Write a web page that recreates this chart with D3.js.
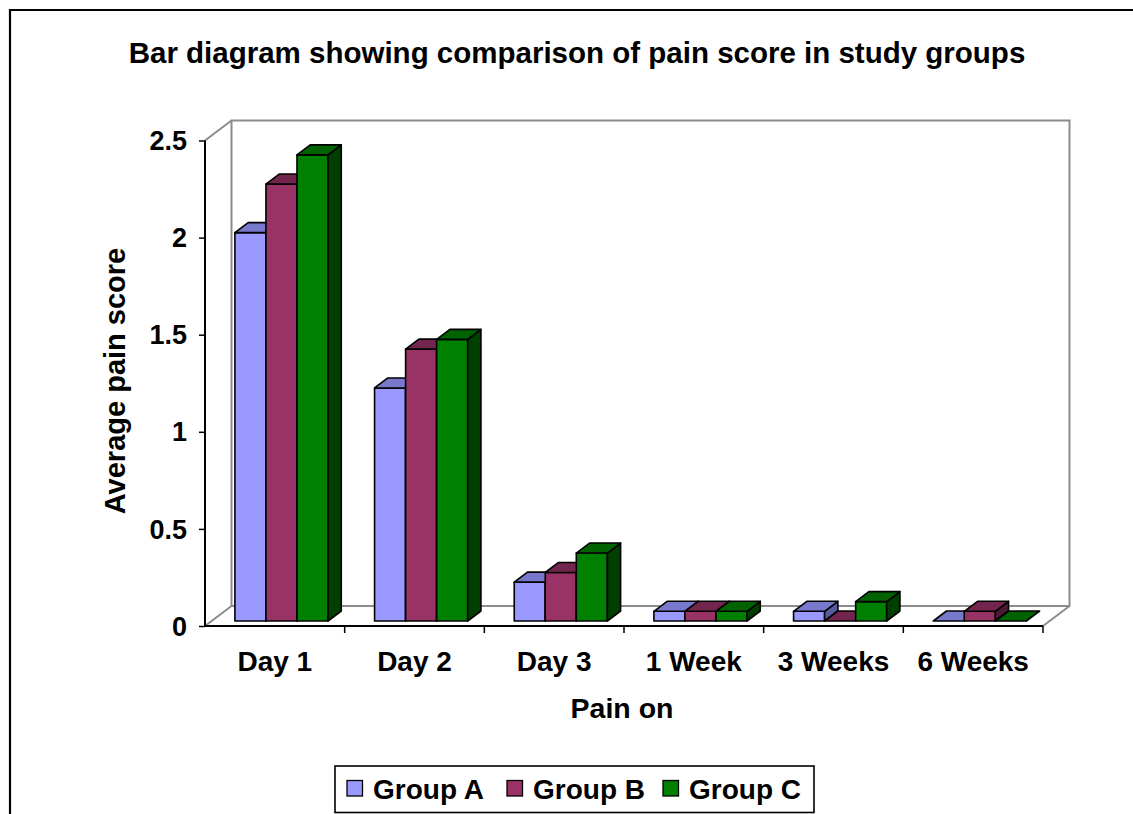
<!DOCTYPE html>
<html><head><meta charset="utf-8">
<script src="https://cdn.jsdelivr.net/npm/d3@7"></script>
<style>
html,body{margin:0;padding:0;background:#fff;}
svg{display:block;font-family:Arial,"Liberation Sans",sans-serif;font-weight:bold;}
</style></head>
<body>
<svg id="chart" width="1133" height="814"></svg>
<script>
const categories = ["Day 1","Day 2","Day 3","1 Week","3 Weeks","6 Weeks"];
const groups = ["Group A","Group B","Group C"];
const groupA = [2.0, 1.2, 0.2, 0.05, 0.05, 0];
const groupB = [2.25, 1.4, 0.25, 0.05, 0, 0.05];
const groupC = [2.4, 1.45, 0.35, 0.05, 0.1, 0];
const yTicks = [0, 0.5, 1, 1.5, 2, 2.5];
const yTickLabels = ["0","0.5","1","1.5","2","2.5"];
const series = [groupA, groupB, groupC];
const colors = {front:["#9999FF","#993366","#008000"], top:["#7878CC","#73264D","#006200"], side:["#5A5AA0","#4D1A33","#003F00"]};

const svg = d3.select("#chart");
const left = 205, right = 1043, bottom = 626, topY = 140.5;
const DX = 26.5, DY = 20;      // full depth offset
const F0 = 0.25, F1 = 0.75;    // bar depth range

const x = d3.scaleBand().domain(categories).range([left, right]).padding(0);
const xg = d3.scaleBand().domain(groups).range([0, x.bandwidth()]).paddingInner(0).paddingOuter(0.75);
const y = d3.scaleLinear().domain([0, 2.5]).range([bottom, topY]);

// outer frame
svg.append("line").attr("x1",9).attr("x2",1133).attr("y1",10).attr("y2",10).attr("stroke","#000").attr("stroke-width",2);
svg.append("line").attr("x1",10).attr("x2",10).attr("y1",9).attr("y2",814).attr("stroke","#000").attr("stroke-width",2.2);

// title
svg.append("text").attr("x",577).attr("y",63).attr("text-anchor","middle").attr("font-size",29.5).text("Bar diagram showing comparison of pain score in study groups");

// walls
const wall = svg.append("g").attr("fill","none").attr("stroke","#8c8c8c").attr("stroke-width",2);
const bx0 = left+DX, bx1 = right+DX, by0 = y(0)-DY, by1 = y(2.5)-DY;
wall.append("path").attr("d",`M${bx0},${by0}L${bx0},${by1}L${bx1},${by1}L${bx1},${by0}Z`);
wall.append("path").attr("d",`M${left},${y(2.5)}L${bx0},${by1}`);
wall.append("path").attr("d",`M${left},${y(0)}L${bx0},${by0}`);
wall.append("path").attr("d",`M${right},${y(0)}L${bx1},${by0}`);

// bars
const bars = svg.append("g").attr("stroke","#000").attr("stroke-width",1.6).attr("stroke-linejoin","round");
categories.forEach((c, ci) => {
  series.forEach((s, gi) => {
    const v = s[ci];
    const x0 = x(c) + xg(groups[gi]) + DX*F0;
    const x1 = x0 + xg.bandwidth();
    const yb = y(0) - DY*F0;
    const yt = y(v) - DY*F0;
    const dx = DX*(F1-F0), dy = DY*(F1-F0);
    const g = bars.append("g");
    if (v > 0) {
      g.append("path").attr("fill",colors.front[gi]).attr("d",`M${x0},${yb}L${x0},${yt}L${x1},${yt}L${x1},${yb}Z`);
      g.append("path").attr("fill",colors.side[gi]).attr("d",`M${x1},${yt}L${x1+dx},${yt-dy}L${x1+dx},${yb-dy}L${x1},${yb}Z`);
    }
    g.append("path").attr("fill",colors.top[gi]).attr("d",`M${x0},${yt}L${x1},${yt}L${x1+dx},${yt-dy}L${x0+dx},${yt-dy}Z`);
  });
});

// axes
const yAxis = d3.axisLeft(y).tickValues(yTicks).tickFormat((d,i)=>yTickLabels[i]).tickSize(6).tickPadding(10);
const ya = svg.append("g").attr("transform",`translate(${left},0)`).call(yAxis);
ya.select(".domain").attr("stroke","#000").attr("stroke-width",2).attr("d",`M0,${y(2.5)}V${y(0)}`);
ya.selectAll(".tick line").attr("stroke","#000").attr("stroke-width",1.5);
ya.selectAll(".tick text").attr("font-size",27).attr("font-family","Arial, Liberation Sans, sans-serif").attr("font-weight","bold").attr("fill","#000").attr("dy","0.34em").attr("dx","-2");

const xa = svg.append("g").attr("transform",`translate(0,${bottom})`);
xa.append("line").attr("x1",left).attr("x2",right).attr("stroke","#000").attr("stroke-width",2);
const bounds = categories.map(c => x(c)).concat([right]);
xa.selectAll(".xt").data(bounds.slice(1)).join("line").attr("class","xt")
  .attr("x1",d=>d).attr("x2",d=>d).attr("y1",0).attr("y2",7).attr("stroke","#000").attr("stroke-width",1.5);
xa.selectAll(".xl").data(categories).join("text").attr("class","xl")
  .attr("x",d=>x(d)+x.bandwidth()/2).attr("y",45).attr("text-anchor","middle").attr("font-size",28).text(d=>d);

// axis titles
svg.append("text").attr("x",622).attr("y",718).attr("text-anchor","middle").attr("font-size",28.5).text("Pain on");
svg.append("text").attr("transform","translate(125,381) rotate(-90)").attr("text-anchor","middle").attr("font-size",29).text("Average pain score");

// legend
const lg = svg.append("g");
lg.append("rect").attr("x",335).attr("y",766).attr("width",479).attr("height",46.5).attr("fill","#fff").attr("stroke","#000").attr("stroke-width",1.6);
const legX = [347, 507, 663];
groups.forEach((gname, gi) => {
  lg.append("rect").attr("x",legX[gi]).attr("y",780.5).attr("width",15.5).attr("height",15.5).attr("fill",colors.front[gi]).attr("stroke","#000").attr("stroke-width",1.3);
  lg.append("text").attr("x",legX[gi]+26).attr("y",799).attr("font-size",28).text(gname);
});
</script>
</body></html>
